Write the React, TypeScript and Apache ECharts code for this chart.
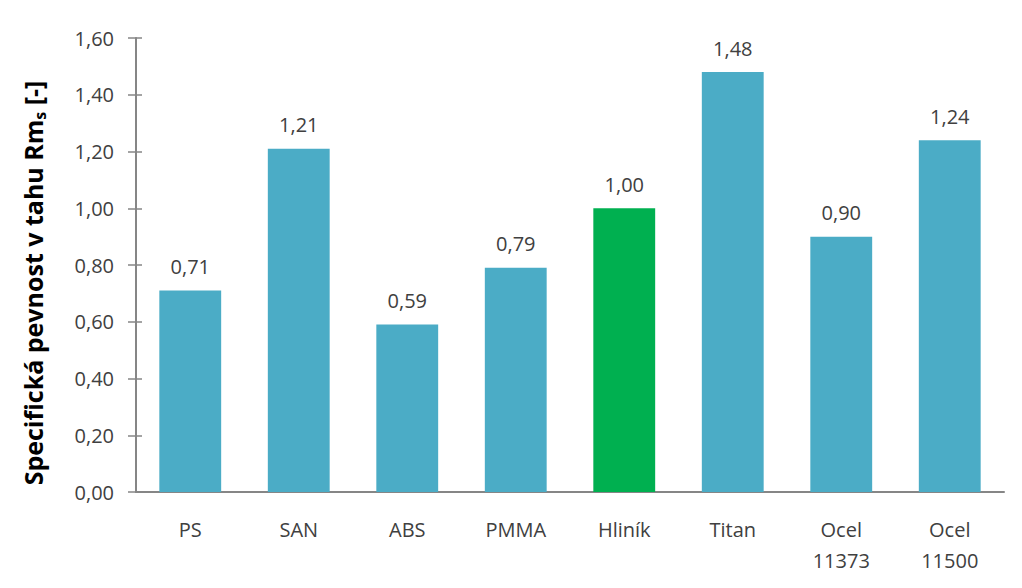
import React, { useEffect, useRef } from "react";
import * as echarts from "echarts";

const categories = ["PS", "SAN", "ABS", "PMMA", "Hliník", "Titan", "Ocel\n11373", "Ocel\n11500"];
const values = [0.71, 1.21, 0.59, 0.79, 1.0, 1.48, 0.9, 1.24];
const highlightIndex = 4;
const yTicks = { min: 0, max: 1.6, interval: 0.2 };

const BLUE = "#4BACC6";
const GREEN = "#00B050";
const AXIS = "#868686";
const TEXT = "#404040";
const FONT = "'Open Sans', 'Noto Sans', sans-serif";

export default function App() {
  const ref = useRef<HTMLDivElement>(null);
  useEffect(() => {
    document.body.style.margin = "0";
    const chart = echarts.init(ref.current!, null, { renderer: "svg" });
    const fmt = (v: number) => v.toFixed(2).replace(".", ",");
    chart.setOption({
      animation: false,
      backgroundColor: "#ffffff",
      grid: { left: 136, right: 18, top: 38, bottom: 96 },
      xAxis: {
        type: "category",
        data: categories,
        axisLine: { lineStyle: { color: AXIS, width: 2 } },
        axisTick: { show: false },
        axisLabel: {
          color: TEXT,
          fontFamily: FONT,
          fontSize: 20,
          lineHeight: 31,
          margin: 22,
        },
      },
      yAxis: [
        {
          type: "value",
          min: yTicks.min,
          max: yTicks.max,
          interval: yTicks.interval,
          splitLine: { show: false },
          axisLine: { show: true, lineStyle: { color: AXIS, width: 2 } },
          axisTick: { show: true, length: 8, lineStyle: { color: AXIS, width: 1.5 } },
          axisLabel: {
            color: TEXT,
            fontFamily: FONT,
            fontSize: 20,
            margin: 22,
            formatter: (v: number) => fmt(v),
          },
          name: "{a|Specifická pevnost v tahu Rm}{s|s}{a| [-]}",
          nameLocation: "middle",
          nameGap: 88,
          nameRotate: 90,
          nameTextStyle: {
            padding: [0, 36, 0, 0],
            rich: {
              a: { fontFamily: FONT, fontSize: 25, fontWeight: "bold", color: "#000000" },
              s: {
                fontFamily: FONT,
                fontSize: 16,
                fontWeight: "bold",
                color: "#000000",
                padding: [14, 0, 0, 0],
              },
            },
          },
        },
        {
          type: "value",
          min: yTicks.min,
          max: yTicks.max,
          interval: yTicks.interval,
          position: "left",
          splitLine: { show: false },
          axisLine: { show: false },
          axisLabel: { show: false },
          axisTick: { show: true, inside: true, length: 6, lineStyle: { color: AXIS, width: 1.5 } },
        },
      ],
      series: [
        {
          type: "bar",
          data: values.map((v, i) => ({
            value: v,
            itemStyle: { color: i === highlightIndex ? GREEN : BLUE },
          })),
          barWidth: "57%",
          label: {
            show: true,
            position: "top",
            distance: 14,
            color: TEXT,
            fontFamily: FONT,
            fontSize: 20,
            formatter: (p: any) => fmt(p.value),
          },
        },
      ],
    });
    return () => chart.dispose();
  }, []);
  return <div ref={ref} style={{ width: 1022, height: 588 }} />;
}
